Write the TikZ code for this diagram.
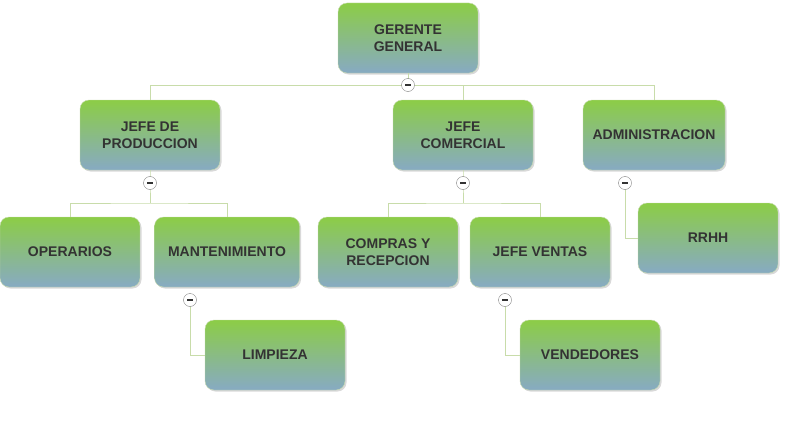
\documentclass[tikz,border=0pt]{standalone}
\usepackage{fontspec}
\setmainfont{Liberation Sans}
\usetikzlibrary{shadows}
\definecolor{gtop}{RGB}{140,205,70}
\definecolor{gbot}{RGB}{135,170,195}
\definecolor{lnk}{RGB}{200,220,170}
\begin{document}
\begin{tikzpicture}[x=1pt,y=-1pt,
  box/.style={rounded corners=9pt,minimum width=140pt,minimum height=70pt,top color=gtop,bottom color=gbot,draw=gtop!80!black!40,align=center,font=\bfseries\fontsize{14}{17}\selectfont,text=black!80,drop shadow={shadow xshift=1.5pt,shadow yshift=-1.5pt,opacity=0.3}},
  lnk/.style={draw=lnk,line width=1pt},
  tog/.style={circle,draw=gray,fill=white,inner sep=0pt,minimum size=13pt,path picture={\fill[black!80] ([xshift=-3pt,yshift=-1.2pt]path picture bounding box.center) rectangle ([xshift=3pt,yshift=1.2pt]path picture bounding box.center);}}]
\useasboundingbox (0,0) rectangle (800,436);
\node[box] (g) at (408,38) {GERENTE\\GENERAL};
\node[box] (p) at (150,135) {JEFE DE\\PRODUCCION};
\node[box] (c) at (463,135) {JEFE\\COMERCIAL};
\node[box,minimum width=142pt] (a) at (654,135) {ADMINISTRACION};
\node[box] (o) at (70,252) {OPERARIOS};
\node[box,minimum width=145pt] (m) at (227,252) {MANTENIMIENTO};
\node[box] (cr) at (388,252) {COMPRAS Y\\RECEPCION};
\node[box] (v) at (540,252) {JEFE VENTAS};
\node[box] (r) at (708,238) {RRHH};
\node[box] (l) at (275,355) {LIMPIEZA};
\node[box] (vd) at (590,355) {VENDEDORES};
\coordinate (tg) at (408,85);
\coordinate (tp) at (150,183);
\coordinate (tc) at (463,183);
\coordinate (ta) at (625,183);
\coordinate (tm) at (190,300);
\coordinate (tv) at (505,300);
\draw[lnk] (g.south) -- (tg);
\draw[lnk] (tg) -| (p.north); \draw[lnk] (tg) -| (a.north); \draw[lnk] (c.north) -- (c.north |- tg);
\draw[lnk] (p.south) -- (tp) -- (150,203); \draw[lnk] (o.north) |- (150,203) -| (m.north);
\draw[lnk] (c.south) -- (tc) -- (463,203); \draw[lnk] (cr.north) |- (463,203) -| (v.north);
\draw[lnk] (ta) |- (r.west);
\draw[lnk] (tm) |- (l.west);
\draw[lnk] (tv) |- (vd.west);
\foreach \t in {tg,tp,tc,ta,tm,tv} \node[tog] at (\t) {};
\end{tikzpicture}
\end{document}
